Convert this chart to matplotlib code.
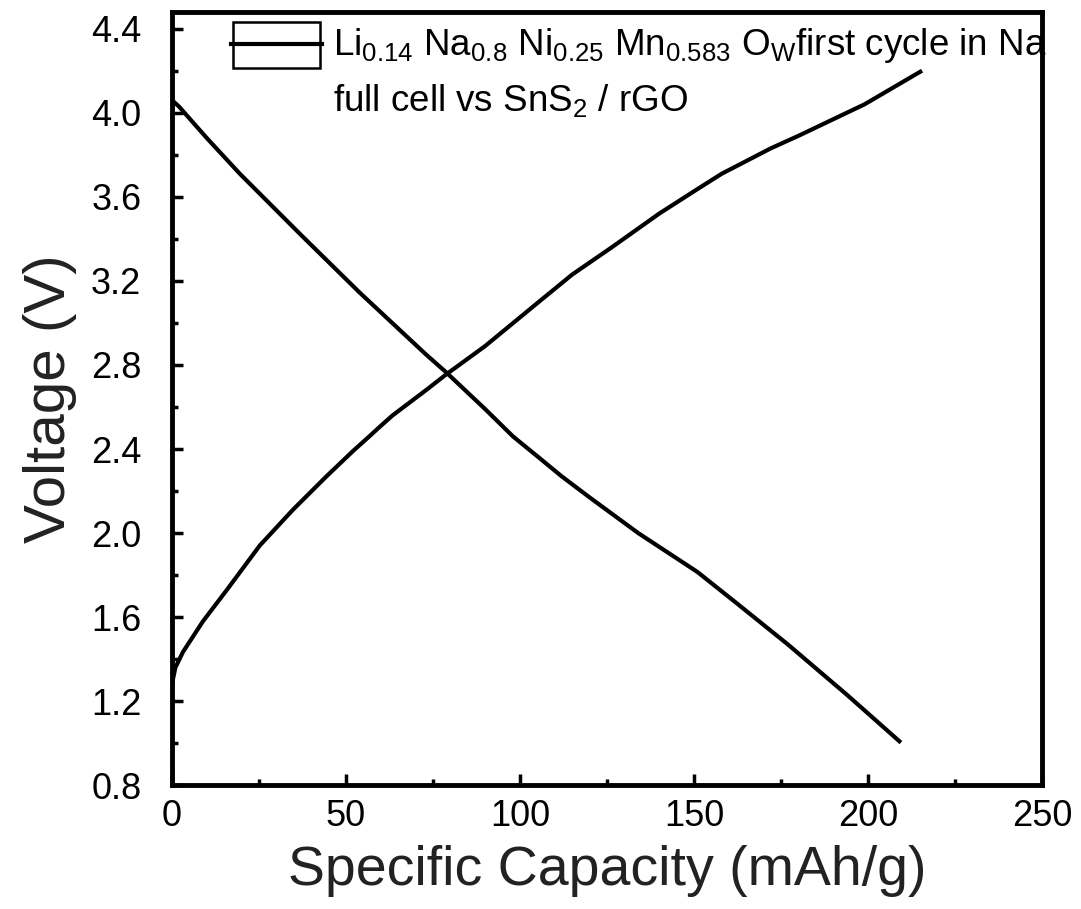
import matplotlib
matplotlib.use("Agg")
import matplotlib.pyplot as plt
from matplotlib.patches import Rectangle
from matplotlib.ticker import MultipleLocator, FormatStrFormatter

# data
charge_cap = [0, 1, 3.2, 8.9, 15.8, 25.2, 34.7, 44.4, 52, 56.7, 60, 63.4, 73, 78.8,
              90, 105.4, 115, 126.4, 140, 151.3, 158, 165, 172, 180, 199, 215]
charge_v = [1.28, 1.36, 1.435, 1.58, 1.73, 1.94, 2.11, 2.27, 2.39, 2.46, 2.51, 2.56, 2.68, 2.755,
            2.89, 3.10, 3.23, 3.36, 3.52, 3.64, 3.71, 3.77, 3.83, 3.89, 4.04, 4.195]

discharge_cap = [0, 2, 10, 19.5, 36.7, 53.9, 73, 78.8, 90, 98, 105.4, 112, 120, 134, 151, 162,
                 177, 194, 209]
discharge_v = [4.06, 4.03, 3.88, 3.71, 3.425, 3.145, 2.85, 2.765, 2.59, 2.46, 2.36, 2.27, 2.17,
               2.0, 1.815, 1.67, 1.47, 1.23, 1.01]

legend_line1 = (r"Li$_\mathregular{0.14}$ Na$_\mathregular{0.8}$ Ni$_\mathregular{0.25}$ "
                r"Mn$_\mathregular{0.583}$ O$_\mathregular{W}$first cycle in Na")
legend_line2 = r"full cell vs SnS$_\mathregular{2}$ / rGO"

plt.rcParams["font.family"] = ["Liberation Sans", "DejaVu Sans"]

fig = plt.figure(figsize=(10.81, 9.09), dpi=100)
ax = fig.add_axes([0.159, 0.136, 0.805, 0.851])

ax.plot(discharge_cap, discharge_v, color="black", lw=3)
ax.plot(charge_cap, charge_v, color="black", lw=3)

ax.set_xlim(0, 250)
ax.set_ylim(0.8, 4.48)
ax.xaxis.set_major_locator(MultipleLocator(50))
ax.xaxis.set_minor_locator(MultipleLocator(25))
ax.yaxis.set_major_locator(MultipleLocator(0.4))
ax.yaxis.set_minor_locator(MultipleLocator(0.2))
ax.yaxis.set_major_formatter(FormatStrFormatter("%.1f"))

for s in ax.spines.values():
    s.set_linewidth(3.5)
ax.tick_params(which="major", direction="in", length=8, width=2.5, labelsize=26)
ax.tick_params(which="minor", direction="in", length=4, width=2.5)
ax.tick_params(axis="x", which="major", pad=10)
ax.tick_params(axis="y", which="major", pad=22)

ax.set_xlabel("Specific Capacity (mAh/g)", fontsize=40, color="#222222", labelpad=8)
ax.set_ylabel("Voltage (V)", fontsize=42, color="#222222", labelpad=10)

# legend drawn by hand: framed sample line, two-line label
ax.add_patch(Rectangle((0.070, 0.928), 0.100, 0.059, transform=ax.transAxes,
                       fill=False, lw=1.8, ec="black", clip_on=False))
ax.plot([0.068, 0.172], [0.959, 0.959], transform=ax.transAxes, color="black", lw=3)
ax.text(0.185, 0.944, legend_line1, transform=ax.transAxes, fontsize=26.5,
        va="baseline", ha="left")
ax.text(0.185, 0.871, legend_line2, transform=ax.transAxes, fontsize=26.5,
        va="baseline", ha="left")

fig.savefig("out.png", dpi=100)
